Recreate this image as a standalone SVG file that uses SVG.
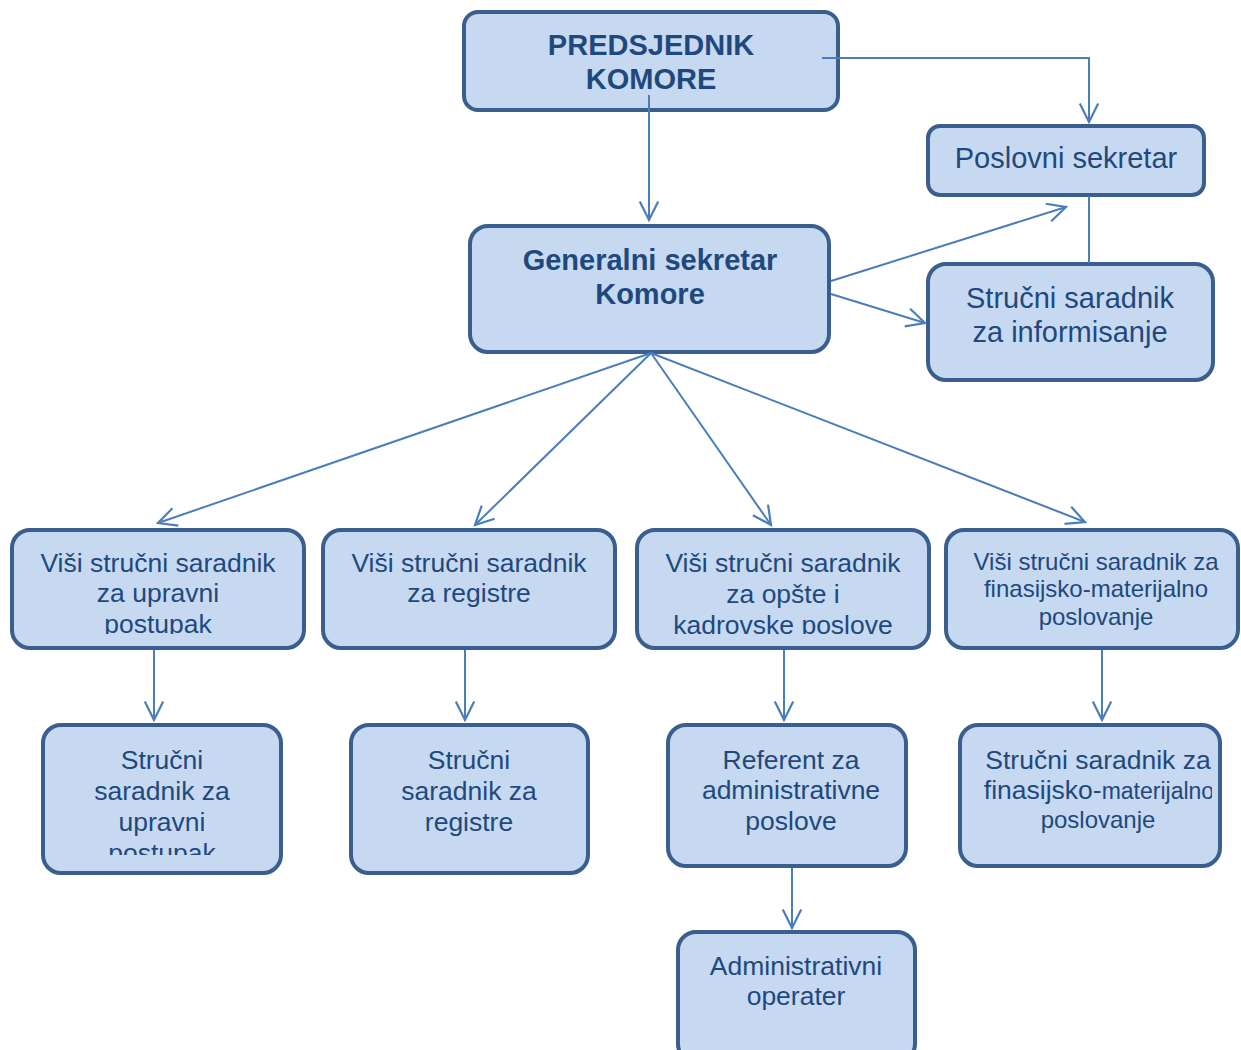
<svg xmlns="http://www.w3.org/2000/svg" width="1241" height="1050" viewBox="0 0 1241 1050">
<style>
.box{fill:#C6D9F1;stroke:#3A5F8E;stroke-width:4}
.t{font-family:"Liberation Sans",Arial,sans-serif;font-size:26.5px;fill:#1F497D;text-anchor:middle}
.b{font-weight:bold;font-size:29px}
.l{font-size:29px}
.s{font-size:24px}
.c{fill:none;stroke:#4A7EBB;stroke-width:2}
</style>
<defs>
<marker id="ah" viewBox="0 0 20 20" refX="18" refY="10" markerWidth="23" markerHeight="23" markerUnits="userSpaceOnUse" orient="auto">
<path d="M2,2 L18,10 L2,18" fill="none" stroke="#4A7EBB" stroke-width="1.9"/>
</marker>
<clipPath id="c1"><rect x="12" y="530" width="292" height="104"/></clipPath>
<clipPath id="c3"><rect x="637" y="530" width="292" height="104"/></clipPath>
<clipPath id="c5"><rect x="43" y="725" width="238" height="130"/></clipPath>
<clipPath id="c8"><rect x="960" y="725" width="252" height="141"/></clipPath>
</defs>
<g id="predsjednik">
<rect class="box" x="464" y="12" width="374" height="98" rx="14"/>
<text class="t b" x="651" y="55">PREDSJEDNIK</text>
<text class="t b" x="651" y="89">KOMORE</text>
</g>
<g id="poslovni">
<rect class="box" x="928" y="126" width="276" height="69" rx="12"/>
<text class="t l" x="1066" y="168">Poslovni sekretar</text>
</g>
<g id="generalni">
<rect class="box" x="470" y="226" width="359" height="126" rx="18"/>
<text class="t b" x="650" y="270">Generalni sekretar</text>
<text class="t b" x="650" y="304">Komore</text>
</g>
<g id="informisanje">
<rect class="box" x="928" y="264" width="285" height="116" rx="18"/>
<text class="t l" x="1070" y="308">Stručni saradnik</text>
<text class="t l" x="1070" y="342">za informisanje</text>
</g>
<g id="visi-upravni">
<rect class="box" x="12" y="530" width="292" height="118" rx="18"/>
<g clip-path="url(#c1)">
<text class="t" x="158" y="572">Viši stručni saradnik</text>
<text class="t" x="158" y="602">za upravni</text>
<text class="t" x="158" y="633">postupak</text>
</g>
</g>
<g id="visi-registre">
<rect class="box" x="323" y="530" width="292" height="118" rx="18"/>
<text class="t" x="469" y="572">Viši stručni saradnik</text>
<text class="t" x="469" y="602">za registre</text>
</g>
<g id="visi-opste">
<rect class="box" x="637" y="530" width="292" height="118" rx="18"/>
<g clip-path="url(#c3)">
<text class="t" x="783" y="572">Viši stručni saradnik</text>
<text class="t" x="783" y="603">za opšte i</text>
<text class="t" x="783" y="634">kadrovske poslove</text>
</g>
</g>
<g id="visi-finansijsko">
<rect class="box" x="946" y="530" width="292" height="118" rx="18"/>
<text class="t s" x="1096" y="570">Viši stručni saradnik za</text>
<text class="t s" x="1096" y="597">finasijsko-materijalno</text>
<text class="t s" x="1096" y="625">poslovanje</text>
</g>
<g id="strucni-upravni">
<rect class="box" x="43" y="725" width="238" height="148" rx="18"/>
<g clip-path="url(#c5)">
<text class="t" x="162" y="769">Stručni</text>
<text class="t" x="162" y="800">saradnik za</text>
<text class="t" x="162" y="831">upravni</text>
<text class="t" x="162" y="862">postupak</text>
</g>
</g>
<g id="strucni-registre">
<rect class="box" x="351" y="725" width="237" height="148" rx="18"/>
<text class="t" x="469" y="769">Stručni</text>
<text class="t" x="469" y="800">saradnik za</text>
<text class="t" x="469" y="831">registre</text>
</g>
<g id="referent">
<rect class="box" x="668" y="725" width="238" height="141" rx="18"/>
<text class="t" x="791" y="769">Referent za</text>
<text class="t" x="791" y="799">administrativne</text>
<text class="t" x="791" y="830">poslove</text>
</g>
<g id="strucni-finansijsko">
<rect class="box" x="960" y="725" width="260" height="141" rx="18"/>
<g clip-path="url(#c8)">
<text class="t" x="1098" y="769">Stručni saradnik za</text>
<text class="t" x="1099" y="799">finasijsko-<tspan font-size="23px">materijalno</tspan></text>
<text class="t s" x="1098" y="828">poslovanje</text>
</g>
</g>
<g id="administrativni">
<rect class="box" x="678" y="932" width="237" height="130" rx="18"/>
<text class="t" x="796" y="975">Administrativni</text>
<text class="t" x="796" y="1005">operater</text>
</g>
<g id="connectors">
<path class="c" d="M649,95 V220" marker-end="url(#ah)"/>
<path class="c" d="M822,58 H1089 V122" marker-end="url(#ah)"/>
<path class="c" d="M1089,196 V263"/>
<path class="c" d="M831,281 L1066,207" marker-end="url(#ah)"/>
<path class="c" d="M831,294 L925,323" marker-end="url(#ah)"/>
<path class="c" d="M651,353 L158,523" marker-end="url(#ah)"/>
<path class="c" d="M651,353 L475,525" marker-end="url(#ah)"/>
<path class="c" d="M651,353 L771,525" marker-end="url(#ah)"/>
<path class="c" d="M651,353 L1085,522" marker-end="url(#ah)"/>
<path class="c" d="M154,650 V720" marker-end="url(#ah)"/>
<path class="c" d="M465,650 V720" marker-end="url(#ah)"/>
<path class="c" d="M784,650 V720" marker-end="url(#ah)"/>
<path class="c" d="M1102,650 V720" marker-end="url(#ah)"/>
<path class="c" d="M792,868 V928" marker-end="url(#ah)"/>
</g>
</svg>
